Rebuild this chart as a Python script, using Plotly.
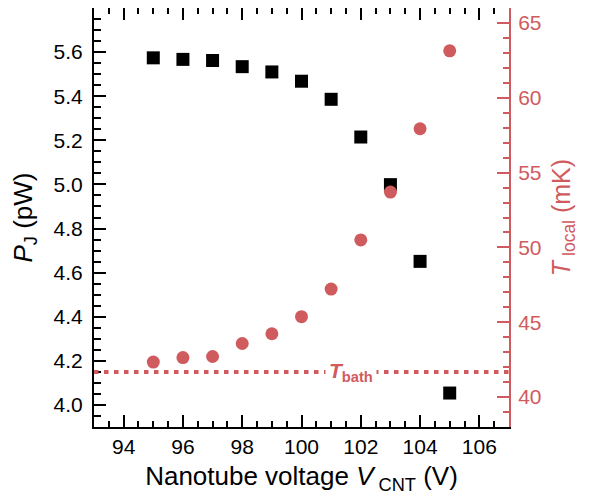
import plotly.graph_objects as go

voltage = [95, 96, 97, 98, 99, 100, 101, 102, 103, 104, 105]
p_j = [5.574, 5.567, 5.562, 5.534, 5.510, 5.468, 5.386, 5.215, 4.999, 4.651, 4.054]
t_local = [42.34, 42.64, 42.71, 43.58, 44.23, 45.37, 47.22, 50.50, 53.70, 57.93, 63.14]
t_bath = 41.67
t_bath_label_x = 101.66

RED = "#D05B5E"
FONT = "Liberation Sans, Arial, Helvetica, sans-serif"

fig = go.Figure()
fig.add_trace(go.Scatter(
    x=voltage, y=p_j, mode="markers", yaxis="y",
    marker=dict(symbol="square", size=13, color="black", line=dict(width=0)),
    showlegend=False))
fig.add_trace(go.Scatter(
    x=voltage, y=t_local, mode="markers", yaxis="y2",
    marker=dict(symbol="circle", size=13, color=RED, line=dict(width=0)),
    showlegend=False))

fig.add_shape(type="line", xref="paper", x0=0, x1=1, yref="y2", y0=t_bath, y1=t_bath,
              line=dict(color=RED, width=4, dash="4.5px,5.5px"), layer="above")
fig.add_annotation(x=t_bath_label_x, y=t_bath, xref="x", yref="y2",
                   text="<b><i>T</i></b><sub><b>bath</b></sub>",
                   showarrow=False, bgcolor="white", borderpad=3,
                   font=dict(family=FONT, size=21, color=RED))

fig.update_layout(
    width=589, height=487,
    margin=dict(l=86, r=88, t=0, b=68),
    paper_bgcolor="white", plot_bgcolor="white",
    font=dict(family=FONT, size=21, color="black"),
    xaxis=dict(
        range=[93, 107], dtick=2, tick0=94, ticks="inside", ticklen=12, tickwidth=1.5,
        tickcolor="black", showline=True, linecolor="black", linewidth=2, mirror="ticks",
        showgrid=False, zeroline=False, automargin=False,
        minor=dict(dtick=0.5, tick0=94, ticks="inside", ticklen=6, tickwidth=1.5, tickcolor="black"),
        title=dict(text="Nanotube voltage <i>V</i><sub> CNT</sub> (V)", font=dict(size=26), standoff=10),
        tickfont=dict(size=21), ticklabelstandoff=0,
    ),
    yaxis=dict(
        range=[3.9, 5.8], dtick=0.2, tick0=4.0, tickformat=".1f", ticks="inside", ticklen=12,
        tickwidth=1.5, tickcolor="black", showline=True, linecolor="black", linewidth=2,
        showgrid=False, zeroline=False, automargin=False,
        minor=dict(dtick=0.05, tick0=4.0, ticks="inside", ticklen=7, tickwidth=1.5, tickcolor="black"),
        title=dict(text="<i>P</i><sub>J</sub> (pW)", font=dict(size=26), standoff=14),
        tickfont=dict(size=21), ticklabelstandoff=5,
    ),
    yaxis2=dict(
        range=[38, 66], dtick=5, tick0=40, overlaying="y", side="right", anchor="x",
        ticks="inside", ticklen=12, tickwidth=1.5, tickcolor=RED,
        showline=True, linecolor=RED, linewidth=2, showgrid=False, zeroline=False, automargin=False,
        minor=dict(dtick=1, tick0=40, ticks="inside", ticklen=6, tickwidth=1.5, tickcolor=RED),
        title=dict(text="<i>T</i><sub> local</sub> (mK)", font=dict(size=25, color=RED), standoff=12),
        tickfont=dict(size=21, color=RED), ticklabelstandoff=3,
    ),
)

fig.write_html("out.html")
